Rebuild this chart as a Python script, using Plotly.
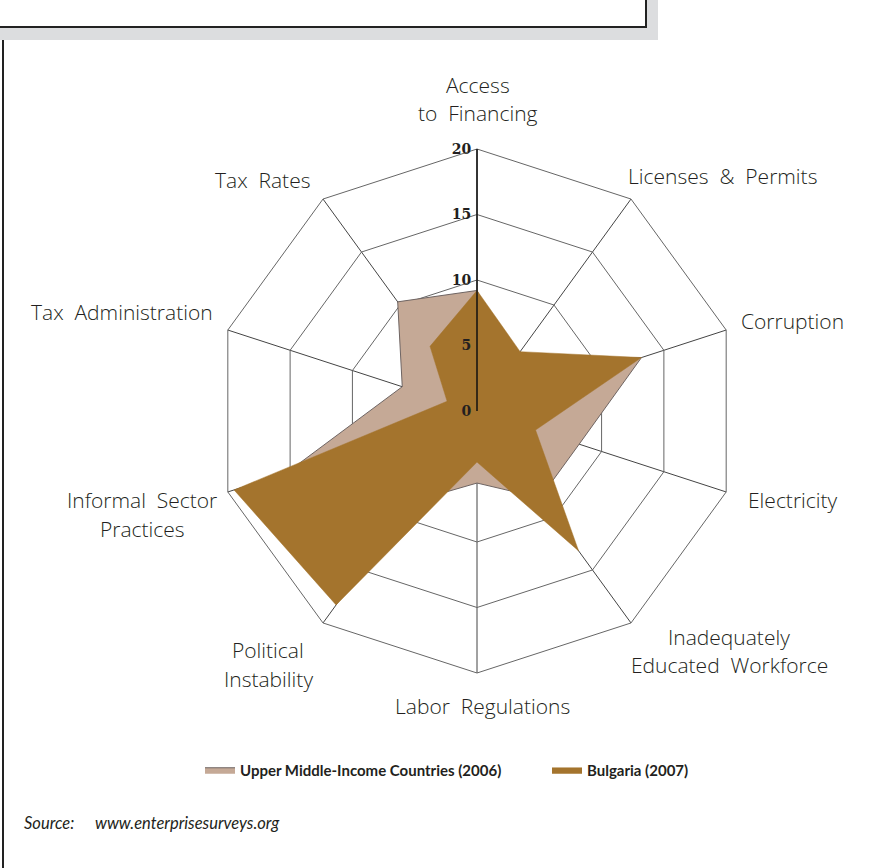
import plotly.graph_objects as go

categories = ["Access to Financing", "Licenses & Permits", "Corruption", "Electricity",
              "Inadequately Educated Workforce", "Labor Regulations", "Political Instability",
              "Informal Sector Practices", "Tax Administration", "Tax Rates"]
umic_2006 = [9.2, 4.5, 13.2, 8.2, 8.2, 5.5, 8.6, 15.3, 6.0, 10.3]
bulgaria_2007 = [9.2, 5.6, 13.2, 4.7, 13.2, 3.9, 18.3, 19.5, 2.4, 6.1]
radial_ticks = [0, 5, 10, 15, 20]
series_names = ["Upper Middle-Income Countries (2006)", "Bulgaria (2007)"]

W, H = 877, 868
LIGHT = "#C5A996"
DARK = "#A4742D"
LABEL_FONT = dict(family="Open Sans", size=21, color="#231f20", weight=300)

fig = go.Figure()
fig.add_trace(go.Scatterpolar(
    r=umic_2006 + umic_2006[:1], theta=categories + categories[:1],
    fill="toself", fillcolor=LIGHT, mode="lines",
    line=dict(color="#6e6462", width=1), name=series_names[0]))
fig.add_trace(go.Scatterpolar(
    r=bulgaria_2007 + bulgaria_2007[:1], theta=categories + categories[:1],
    fill="toself", fillcolor=DARK, mode="lines",
    line=dict(color=DARK, width=0.5), name=series_names[1]))

cx, cy, R = 477, 411, 262
fig.update_layout(
    width=W, height=H, margin=dict(l=0, r=0, t=0, b=0, autoexpand=False),
    paper_bgcolor="white", plot_bgcolor="white",
    polar=dict(
        domain=dict(x=[(cx - R) / W, (cx + R) / W], y=[1 - (cy + R) / H, 1 - (cy - R) / H]),
        bgcolor="rgba(0,0,0,0)",
        gridshape="linear",
        radialaxis=dict(range=[0, 20], tickvals=radial_ticks, angle=90,
                        showline=True, linecolor="#111", linewidth=1.5,
                        gridcolor="#666", gridwidth=1, layer="above traces",
                        ticks="", tickangle=90, side="counterclockwise",
                        tickfont=dict(family="DejaVu Serif", size=14, color="#231f20", weight="bold")),
        angularaxis=dict(direction="clockwise", rotation=90, showticklabels=False, ticks="",
                         showline=True, linecolor="#666", linewidth=1,
                         gridcolor="#444", gridwidth=1, layer="above traces"),
    ),
    showlegend=True,
    legend=dict(orientation="h", x=200 / W, xanchor="left", y=1 - 770 / H, yanchor="middle",
                font=dict(family="Lato", size=15, color="#231f20", weight="bold"),
                entrywidth=302, traceorder="normal"),
)

labels = [
    ("Access", 478, 85), ("to  Financing", 478, 113),
    ("Licenses  &  Permits", 722, 176),
    ("Corruption", 792, 321),
    ("Electricity", 793, 500),
    ("Inadequately", 729, 637), ("Educated  Workforce", 729, 665),
    ("Labor  Regulations", 482, 706),
    ("Political", 268, 650), ("Instability", 268, 679),
    ("Informal  Sector", 142, 500), ("Practices", 142, 529),
    ("Tax  Administration", 122, 312),
    ("Tax  Rates", 262, 180),
]
for txt, x, y in labels:
    fig.add_annotation(text=txt.replace("  ", "\u00a0 "), x=x / W, y=1 - y / H, xref="paper", yref="paper",
                       showarrow=False, xanchor="center", yanchor="middle", font=LABEL_FONT)

fig.add_annotation(text="<i>Source:</i>", x=22 / W, y=1 - 823 / H, xref="paper", yref="paper",
                   showarrow=False, xanchor="left", yanchor="middle",
                   font=dict(family="Lato", size=16.5, color="#231f20"))
fig.add_annotation(text="<i>www.enterprisesurveys.org</i>", x=93 / W, y=1 - 823 / H, xref="paper", yref="paper",
                   showarrow=False, xanchor="left", yanchor="middle",
                   font=dict(family="Lato", size=16.5, color="#231f20"))

# frame decorations
def px(x): return x / W
def py(y): return 1 - y / H
fig.add_shape(type="rect", xref="paper", yref="paper", x0=px(0), x1=px(658), y0=py(0), y1=py(40),
              fillcolor="#dcdddf", line=dict(width=0), layer="below")
fig.add_shape(type="rect", xref="paper", yref="paper", x0=px(-10), x1=px(646), y0=py(-10), y1=py(27),
              fillcolor="white", line=dict(color="#222", width=2), layer="below")
fig.add_shape(type="line", xref="paper", yref="paper", x0=px(3), x1=px(3), y0=py(40), y1=py(870),
              line=dict(color="#222", width=2))

fig.write_html("out.html", config={"displayModeBar": False},
               post_script="document.body.style.margin='0';document.body.style.overflow='hidden';")
